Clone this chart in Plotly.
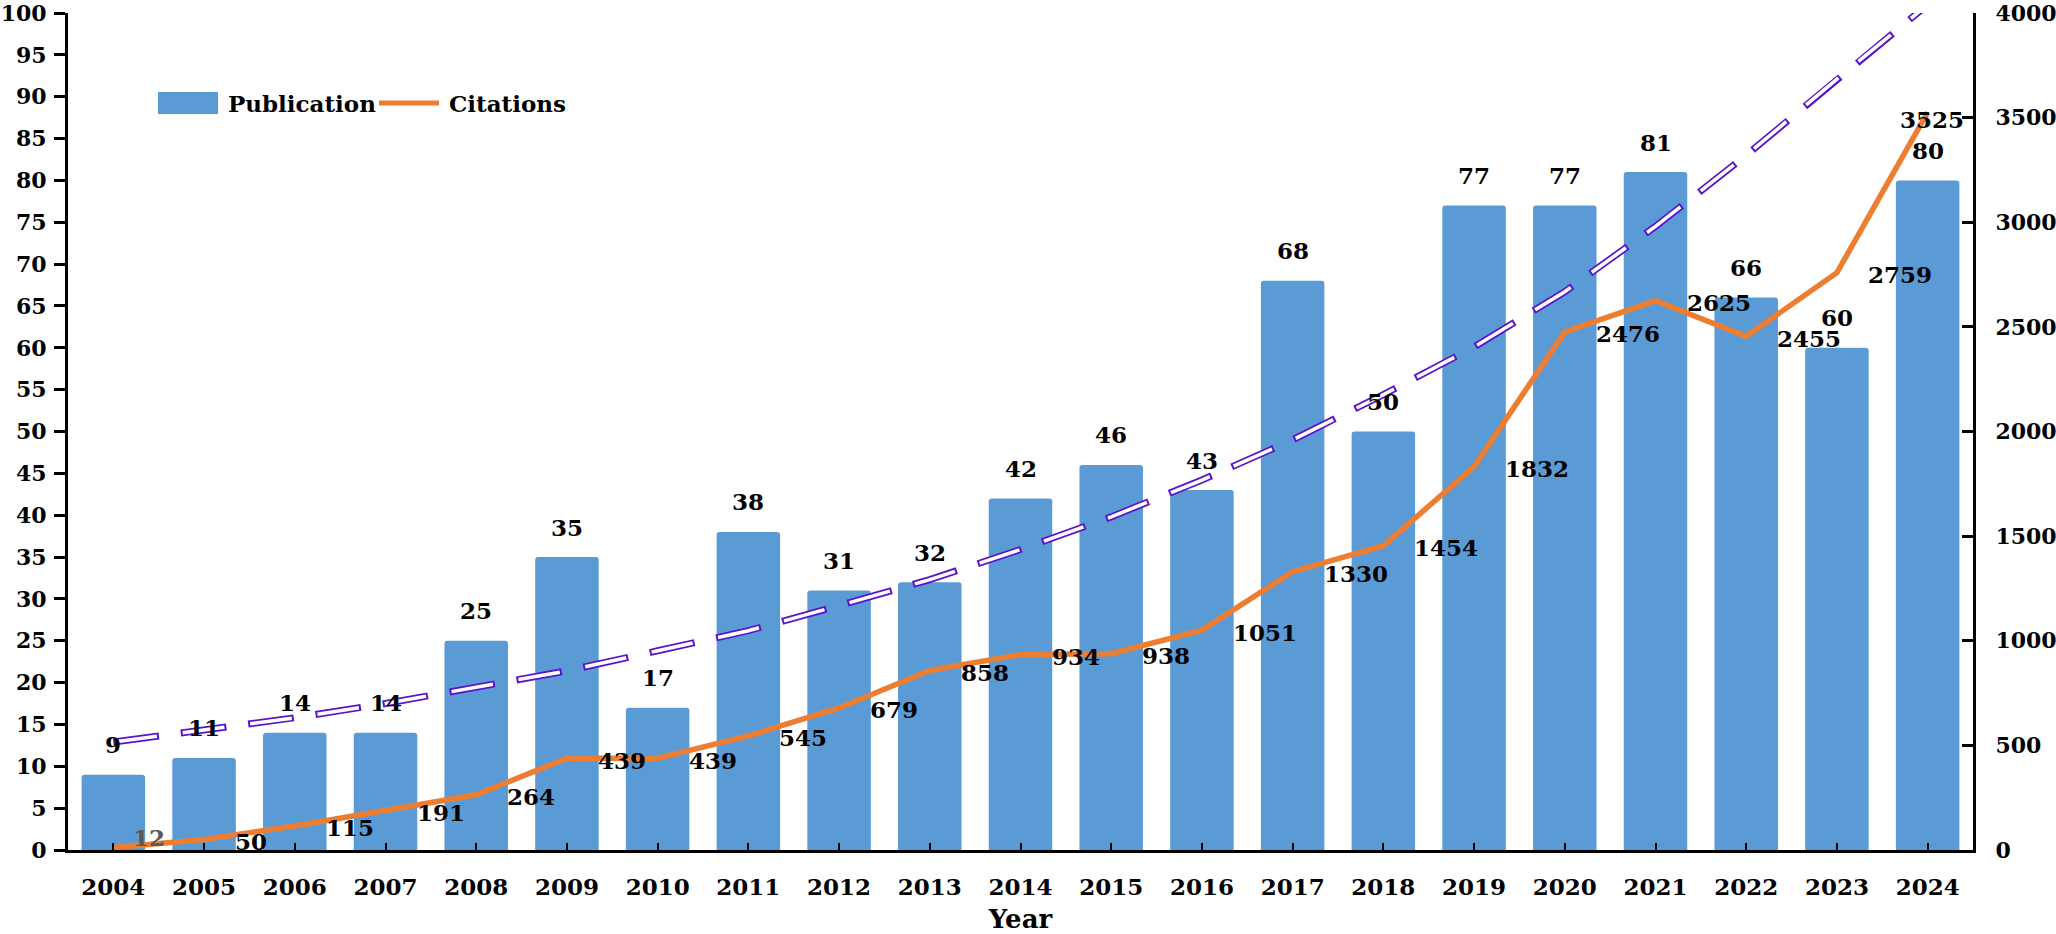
import plotly.graph_objects as go

# ---------------- data ----------------
years = [2004, 2005, 2006, 2007, 2008, 2009, 2010, 2011, 2012, 2013, 2014,
         2015, 2016, 2017, 2018, 2019, 2020, 2021, 2022, 2023, 2024]
publications = [9, 11, 14, 14, 25, 35, 17, 38, 31, 32, 42,
                46, 43, 68, 50, 77, 77, 81, 66, 60, 80]
citations = [12, 50, 115, 191, 264, 439, 439, 545, 679, 858, 934,
             938, 1051, 1330, 1454, 1832, 2476, 2625, 2455, 2759, 3525]
# trend line (left-axis units)
trend = [12.9, 14.3, 15.8, 17.5, 19.5, 21.4, 23.8, 26.2, 29.2, 32.3, 35.9,
         39.8, 44.2, 49.0, 54.4, 60.1, 66.7, 74.5, 83.0, 92.1, 101.0]
legend_labels = ["Publication", "Citations"]
x_title = "Year"

# ---------------- style ----------------
BLUE = "#5B9BD5"
ORANGE = "#ED7D31"
PURPLE = "#5A14CC"
FONT = "DejaVu Serif"
W, H = 2056, 934
PL, PR, PT, PB = 68, 1973, 13, 850  # plot area in px


def pxx(x):
    return (x - PL) / (PR - PL)


def pxy(y):
    return (PB - y) / (PB - PT)


fig = go.Figure()
fig.add_trace(go.Bar(
    x=years, y=publications, name=legend_labels[0], width=0.7,
    marker=dict(color=BLUE, cornerradius=3, line=dict(width=0)),
))
fig.add_trace(go.Scatter(
    x=years, y=trend, mode="lines", showlegend=False, hoverinfo="skip",
    line=dict(color=PURPLE, width=7, dash="46px,22px"),
))
fig.add_trace(go.Scatter(
    x=years, y=trend, mode="lines", showlegend=False, hoverinfo="skip",
    line=dict(color="white", width=3.5, dash="0px,2px,42px,24px"),
))
fig.add_trace(go.Scatter(
    x=years, y=citations, mode="lines", name=legend_labels[1], yaxis="y2",
    line=dict(color=ORANGE, width=5.5),
))

lab_font = dict(family=FONT, size=23, color="black", weight="bold")
annotations = []
for x, v in zip(years, publications):
    annotations.append(dict(x=x, y=v, xref="x", yref="y", text=str(v),
                            showarrow=False, yshift=30, font=lab_font))
n = len(citations)
for i, (x, v) in enumerate(zip(years, citations)):
    a = dict(x=x, y=v, xref="x", yref="y2", text=str(v), showarrow=False,
             xanchor="left", yanchor="middle", xshift=29, yshift=-2,
             font=lab_font)
    if i == 0:
        a.update(xshift=18, yshift=10, font=dict(lab_font, color="#595959"))
    if i == n - 1:
        a.update(xanchor="center", xshift=4, yshift=-7)
    annotations.append(a)

# custom legend
annotations.append(dict(x=pxx(226), y=pxy(103), xref="paper", yref="paper",
                        text=legend_labels[0], showarrow=False,
                        xanchor="left", yanchor="middle", font=lab_font))
annotations.append(dict(x=pxx(447), y=pxy(103), xref="paper", yref="paper",
                        text=legend_labels[1], showarrow=False,
                        xanchor="left", yanchor="middle", font=lab_font))
shapes = [
    dict(type="rect", xref="paper", yref="paper", x0=pxx(158), x1=pxx(218),
         y0=pxy(114), y1=pxy(92), fillcolor=BLUE, line=dict(width=0)),
    dict(type="line", xref="paper", yref="paper", x0=pxx(379), x1=pxx(439),
         y0=pxy(103), y1=pxy(103), line=dict(color=ORANGE, width=5)),
]

xtick_font = dict(family=FONT, size=23, color="black", weight="bold")
ytick_font = dict(family=FONT, size=22, color="black", weight="bold")
fig.update_layout(
    width=W, height=H,
    margin=dict(l=PL, r=W - PR, t=PT, b=H - PB, pad=0, autoexpand=False),
    paper_bgcolor="white", plot_bgcolor="white",
    showlegend=False,
    font=dict(family=FONT, color="black"),
    annotations=annotations, shapes=shapes,
    xaxis=dict(range=[2003.5, 2024.5], tickvals=years, ticks="inside",
               ticklen=7, tickwidth=2, tickcolor="black", showline=True,
               linewidth=3, linecolor="black", showgrid=False, zeroline=False,
               tickfont=xtick_font, ticklabelstandoff=14, automargin=False,
               ticklabeloverflow="allow",
               title=dict(text=x_title, standoff=19,
                          font=dict(family=FONT, size=26, color="black",
                                    weight="bold"))),
    yaxis=dict(range=[0, 100], dtick=5, ticks="outside", ticklen=11,
               tickwidth=2.5, tickcolor="black", showline=True, linewidth=3,
               linecolor="black", showgrid=False, zeroline=False,
               tickfont=ytick_font, ticklabelstandoff=3, automargin=False,
               ticklabeloverflow="allow"),
    yaxis2=dict(range=[0, 4000], dtick=500, overlaying="y", side="right",
                ticks="inside", ticklen=11, tickwidth=2.5, tickcolor="black",
                showline=True, linewidth=3, linecolor="black", showgrid=False,
                zeroline=False, tickfont=ytick_font, ticklabelstandoff=15,
                automargin=False, ticklabeloverflow="allow"),
)

fig.write_html("out.html")
